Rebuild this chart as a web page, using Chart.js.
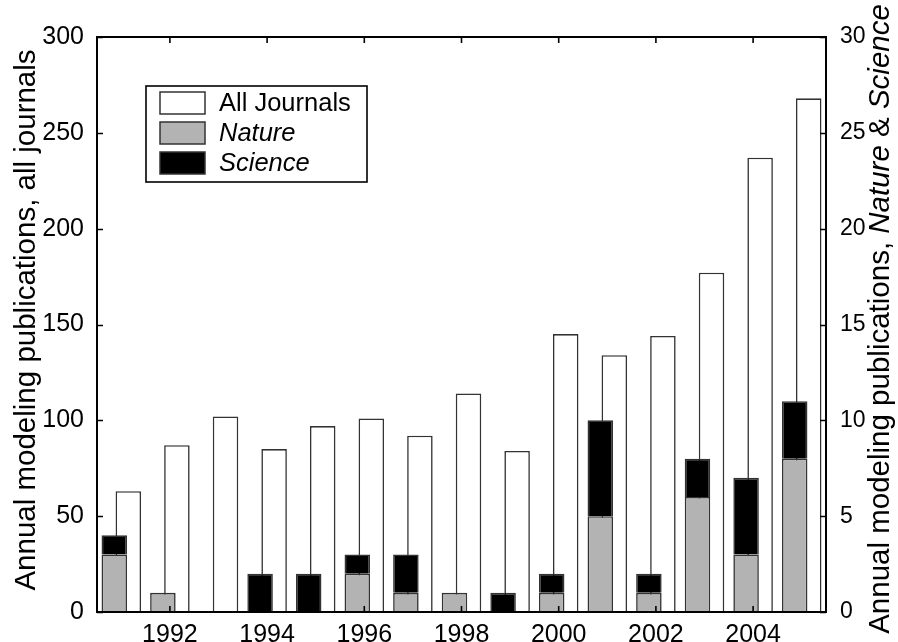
<!DOCTYPE html>
<html>
<head>
<meta charset="utf-8">
<script src="https://cdn.jsdelivr.net/npm/chart.js@4"></script>
<style>
html,body{margin:0;padding:0;background:#fff;}
#wrap{width:898px;height:642px;}
</style>
</head>
<body>
<div id="wrap"><canvas id="c" width="898" height="642"></canvas></div>
<script>
const years = ['1991','1992','1993','1994','1995','1996','1997','1998','1999','2000','2001','2002','2003','2004','2005'];
const allJournals = [63, 87, 102, 85, 97, 101, 92, 114, 84, 145, 134, 144, 177, 237, 268];
const nature = [3, 1, 0, 0, 0, 2, 1, 1, 0, 1, 5, 1, 6, 3, 8];
const science = [1, 0, 0, 2, 2, 1, 2, 0, 1, 1, 5, 1, 2, 4, 3];
const leftTicks = [0, 50, 100, 150, 200, 250, 300];
const rightTicks = [0, 5, 10, 15, 20, 25, 30];
const shownYears = ['1992','1994','1996','1998','2000','2002','2004'];

const FONT = '"Liberation Sans", Arial, Helvetica, sans-serif';
const edge = '#333333';

const framePlugin = {
  id: 'frame',
  afterDatasetsDraw(chart) {
    const {ctx, chartArea: a, scales} = chart;
    ctx.save();
    ctx.strokeStyle = '#000';
    ctx.lineWidth = 1.6;
    ctx.beginPath();
    scales.y.ticks.forEach((t, i) => {
      const py = Math.round(scales.y.getPixelForTick(i)) + 0.5;
      ctx.moveTo(a.left, py); ctx.lineTo(a.left + 6, py);
    });
    scales.y2.ticks.forEach((t, i) => {
      const py = Math.round(scales.y2.getPixelForTick(i)) + 0.5;
      ctx.moveTo(a.right, py); ctx.lineTo(a.right - 6, py);
    });
    years.forEach((yr, i) => {
      if (!shownYears.includes(yr)) return;
      const px = scales.x.getPixelForValue(i);
      ctx.moveTo(px, a.top); ctx.lineTo(px, a.top + 6);
      ctx.moveTo(px, a.bottom); ctx.lineTo(px, a.bottom - 6);
    });
    ctx.stroke();
    ctx.lineWidth = 2;
    ctx.strokeRect(a.left, a.top, a.right - a.left, a.bottom - a.top);

    // legend
    const lx = 146, ly = 86, lw = 221, lh = 96;
    ctx.fillStyle = '#fff';
    ctx.fillRect(lx, ly, lw, lh);
    ctx.lineWidth = 1.6;
    ctx.strokeStyle = '#000';
    ctx.strokeRect(lx, ly, lw, lh);
    const items = [
      {label: 'All Journals', fill: '#ffffff', italic: false},
      {label: 'Nature', fill: '#b3b3b3', italic: true},
      {label: 'Science', fill: '#000000', italic: true}
    ];
    items.forEach((it, k) => {
      const cy = 103 + k * 30;
      ctx.fillStyle = it.fill;
      ctx.fillRect(160, cy - 11, 45, 22);
      ctx.strokeStyle = edge;
      ctx.lineWidth = 1.5;
      ctx.strokeRect(160, cy - 11, 45, 22);
      ctx.fillStyle = '#000';
      ctx.font = (it.italic ? 'italic ' : '') + '25.5px ' + FONT;
      ctx.textBaseline = 'middle';
      ctx.textAlign = 'left';
      ctx.fillText(it.label, 219, cy + 1);
    });

    // axis titles
    const TS = 29.5;
    ctx.fillStyle = '#000';
    ctx.textBaseline = 'alphabetic';
    ctx.font = TS + 'px ' + FONT;
    ctx.save();
    ctx.translate(35, 320);
    ctx.rotate(-Math.PI / 2);
    ctx.textAlign = 'center';
    ctx.fillText('Annual modeling publications, all journals', 0, 0);
    ctx.restore();

    const segs = [
      {t: 'Annual modeling publications, ', it: false},
      {t: 'Nature', it: true},
      {t: ' & ', it: false},
      {t: 'Science', it: true}
    ];
    let total = 0;
    segs.forEach(s => { ctx.font = (s.it ? 'italic ' : '') + TS + 'px ' + FONT; s.w = ctx.measureText(s.t).width; total += s.w; });
    ctx.save();
    ctx.translate(889, 319);
    ctx.rotate(-Math.PI / 2);
    ctx.textAlign = 'left';
    let x0 = -total / 2;
    segs.forEach(s => { ctx.font = (s.it ? 'italic ' : '') + TS + 'px ' + FONT; ctx.fillText(s.t, x0, 0); x0 += s.w; });
    ctx.restore();
    ctx.restore();
  }
};

const barCommon = {
  categoryPercentage: 0.577,
  barPercentage: 1.82,
  borderColor: edge,
  borderWidth: 1.6,
  borderSkipped: 'start'
};

new Chart(document.getElementById('c'), {
  type: 'bar',
  data: {
    labels: years,
    datasets: [
      Object.assign({label: 'Nature', data: nature, backgroundColor: '#b3b3b3', stack: 'ns', yAxisID: 'y2'}, barCommon),
      Object.assign({label: 'Science', data: science, backgroundColor: '#000000', stack: 'ns', yAxisID: 'y2'}, barCommon),
      Object.assign({label: 'All Journals', data: allJournals, backgroundColor: '#ffffff', stack: 'aj', yAxisID: 'y'}, barCommon)
    ]
  },
  options: {
    responsive: false,
    animation: false,
    events: [],
    layout: {padding: {top: 37, left: 0, right: 0, bottom: 0}},
    plugins: {legend: {display: false}, tooltip: {enabled: false}, title: {display: false}},
    scales: {
      x: {
        offset: true,
        grid: {display: false, offset: false},
        border: {display: false},
        ticks: {
          autoSkip: false, maxRotation: 0, minRotation: 0, padding: 0,
          color: '#000', font: {family: FONT, size: 25},
          callback: function(v, i) { return shownYears.includes(years[i]) ? years[i] : ''; }
        },
        afterFit: s => { s.height = 30; }
      },
      y: {
        position: 'left', min: 0, max: 300,
        afterBuildTicks: s => { s.ticks = leftTicks.map(v => ({value: v})); },
        grid: {display: false}, border: {display: false},
        ticks: {padding: 5, color: '#000', font: {family: FONT, size: 25}},
        afterFit: s => { s.width = 97; }
      },
      y2: {
        position: 'right', min: 0, max: 30,
        afterBuildTicks: s => { s.ticks = rightTicks.map(v => ({value: v})); },
        grid: {display: false}, border: {display: false},
        ticks: {padding: 6, color: '#000', font: {family: FONT, size: 23}},
        afterFit: s => { s.width = 72; }
      }
    }
  },
  plugins: [framePlugin]
});
</script>
</body>
</html>
